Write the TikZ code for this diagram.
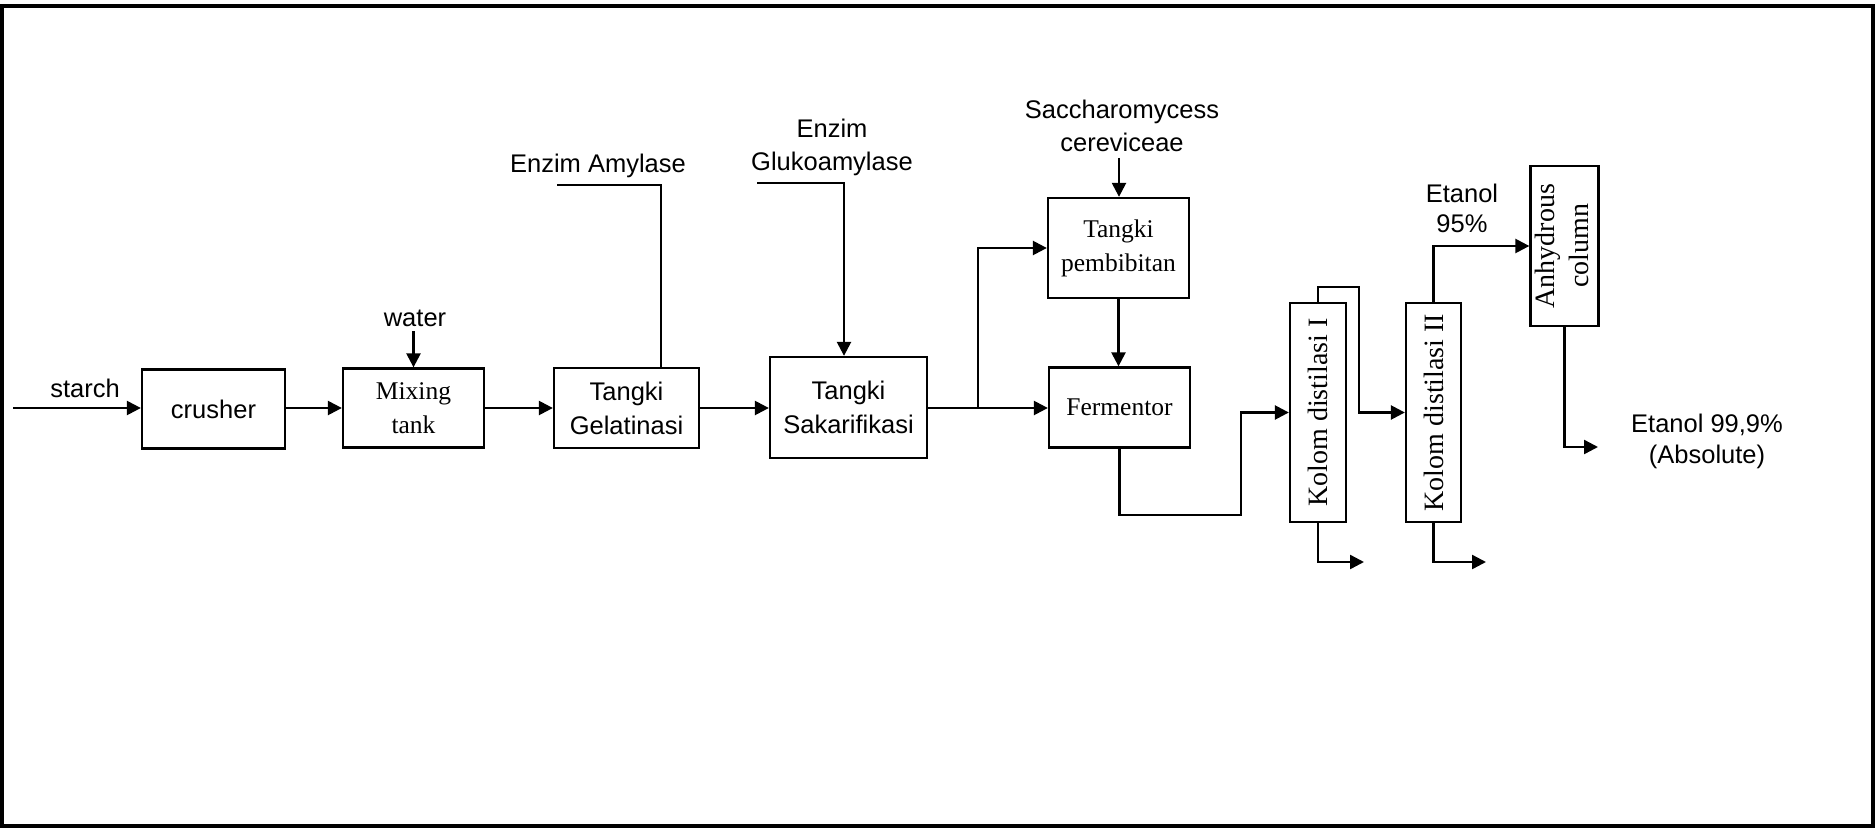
\documentclass[tikz,border=0pt]{standalone}
\usepackage{fontspec}
\setmainfont{Liberation Serif}
\newfontfamily\arialfont{Liberation Sans}
\usetikzlibrary{arrows.meta}
\begin{document}
\begin{tikzpicture}[x=1pt,y=-1pt,line width=2.4pt,
  tbox/.style={draw,line width=2.3pt,inner sep=0pt,align=center,font=\fontsize{25.5}{34}\selectfont},
  abox/.style={tbox,font=\arialfont\fontsize{25.5}{34}\selectfont},
  rbox/.style={tbox,font=\fontsize{28}{34}\selectfont},
  lbl/.style={inner sep=0pt,anchor=base,font=\arialfont\fontsize{25.5}{31}\selectfont},
  flow/.style={-{Triangle[length=14pt,width=14pt]},line width=2.4pt},
  plainline/.style={line width=2.4pt}]
\useasboundingbox (0,0) rectangle (1875,832);
\draw[line width=3.5pt] (2,6) rectangle (1873,826);

% process boxes
\node[abox,minimum width=143pt,minimum height=79pt] (crusher) at (213.5,409) {crusher};
\node[tbox,minimum width=141pt,minimum height=79pt] (mixing) at (413.5,408) {Mixing\\tank};
\node[abox,minimum width=145pt,minimum height=80pt] (gelat) at (626.5,408) {Tangki\\Gelatinasi};
\node[abox,minimum width=157pt,minimum height=101pt] (sakar) at (848.5,407.5) {Tangki\\Sakarifikasi};
\node[tbox,minimum width=141pt,minimum height=100pt] (bibit) at (1118.5,248) {Tangki\\pembibitan};
\node[tbox,minimum width=141pt,minimum height=80pt] (ferm) at (1119.5,407.5) {Fermentor};
\node[rbox,minimum width=56pt,minimum height=219pt] (kol1) at (1318,412.5) {\rotatebox{90}{Kolom distilasi I}};
\node[rbox,minimum width=55pt,minimum height=219pt] (kol2) at (1433.5,412.5) {\rotatebox{90}{Kolom distilasi II}};
\node[rbox,minimum width=67pt,minimum height=160pt] (anh) at (1564.5,246) {\rotatebox{90}{\begin{tabular}{@{}c@{}}Anhydrous\\column\end{tabular}}};

% labels
\node[lbl] (starch) at (85,397) {starch};
\node[lbl] (water) at (415,326) {water};
\node[lbl] (amyl) at (598,172) {Enzim Amylase};
\node[lbl] (glu1) at (832,138) {Enzim};
\node[lbl] (glu2) at (832,171) {Glukoamylase};
\node[lbl] (sac1) at (1122,119) {Saccharomycess};
\node[lbl] (sac2) at (1122,152) {cereviceae};
\node[lbl] (et1) at (1462,202) {Etanol};
\node[lbl] (et2) at (1462,233) {95\%};
\node[lbl] (ab1) at (1707,432) {Etanol 99,9\%};
\node[lbl] (ab2) at (1707,463) {(Absolute)};

% connectors
\coordinate (in) at (13,408);
\draw[flow] (in) -- (crusher.west |- in);
\draw[flow] (crusher.east |- in) -- (mixing.west |- in);
\draw[flow] (mixing.east |- in) -- (gelat.west |- in);
\draw[flow] (gelat.east |- in) -- (sakar.west |- in);
\draw[flow] (sakar.east |- in) -- (ferm.west |- in);
\coordinate (split) at (978,408);
\draw[flow] (split) |- (bibit.west);
\draw[flow] ([yshift=-4pt]mixing.north |- water.south) -- (mixing.north);

\coordinate (a0) at (557,185);
\coordinate (a1) at (661,185);
\draw[plainline] (a0) -- (a1) -- (a1 |- gelat.north);

\coordinate (g0) at (757,183);
\coordinate (g1) at (844,183);
\draw[flow] (g0) -- (g1) -- (g1 |- sakar.north);

\coordinate (s0) at (1119,158);
\draw[flow] (s0) -- (s0 |- bibit.north);
\draw[flow] (bibit.south) -- (bibit.south |- ferm.north);

\coordinate (f1) at (1241,515);
\draw[flow] (ferm.south) |- (f1) |- (kol1.west);
\coordinate (t1) at (1359,287);
\draw[flow] (kol1.north) |- (t1) |- (kol2.west);
\coordinate (b1) at (1364,562);
\draw[flow] (kol1.south) |- (b1);
\coordinate (b2) at (1486,562);
\draw[flow] (kol2.south) |- (b2);
\draw[flow] (kol2.north) |- (anh.west);
\coordinate (b3) at (1598,447);
\draw[flow] (anh.south) |- (b3);
\end{tikzpicture}
\end{document}
